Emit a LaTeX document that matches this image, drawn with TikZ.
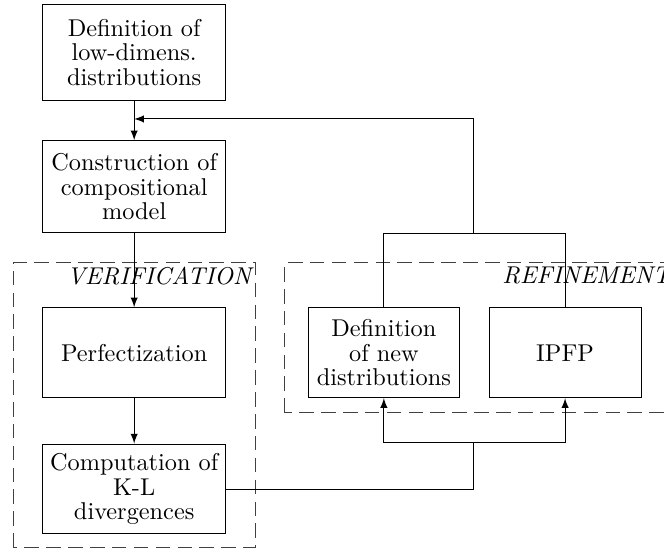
\documentclass[tikz,border=0pt]{standalone}

\tikzset{
  block/.style={draw, align=center, minimum width=2.64cm, minimum height=1.30cm,
    inner sep=2pt, font=\fontsize{10}{10.2}\selectfont},
  phase/.style={draw=black!75, dash pattern=on 6pt off 3pt},
  phaselabel/.style={anchor=north east, inner sep=1.5pt, font=\itshape},
}

\begin{document}
\begin{tikzpicture}[>=latex]
\useasboundingbox (0,0) rectangle (9.60,7.98);

\draw[phase] (0.19,0.06) rectangle (3.69,4.18);
\draw[phase] (4.12,2.01) rectangle (9.75,4.18);
\node[phaselabel] (verif) at (3.69,4.18) {VERIFICATION};
\node[phaselabel] (refin) at (9.75,4.18) {REFINEMENT};

\node[block, minimum height=1.39cm] (lowdim) at (1.94,7.22) {Definition of\\low-dimens.\\distributions};
\node[block, minimum height=1.33cm] (model) at (1.94,5.28) {Construction of\\compositional\\model};
\node[block] (perf) at (1.94,2.88) {Perfectization};
\node[block] (kl) at (1.94,0.91) {Computation of\\K-L\\divergences};
\node[block, minimum width=2.18cm] (newdist) at (5.55,2.88) {Definition\\of new\\distributions};
\node[block, minimum width=2.20cm] (ipfp) at (8.17,2.88) {IPFP};

\coordinate (merge) at (1.94,6.26);
\coordinate (top) at (6.85,4.61);
\coordinate (bot) at (6.85,1.58);

\draw[->] (lowdim) -- (model);
\draw[->] (model) -- (perf);
\draw[->] (perf) -- (kl);
% refinement loop back to the model
\draw (newdist.north) |- (top) -| (ipfp.north);
\draw[->] (top) |- (merge);
\draw (kl.east) -| (bot);
\draw[->] (bot) -| (newdist.south);
\draw[->] (bot) -| (ipfp.south);
\end{tikzpicture}
\end{document}
